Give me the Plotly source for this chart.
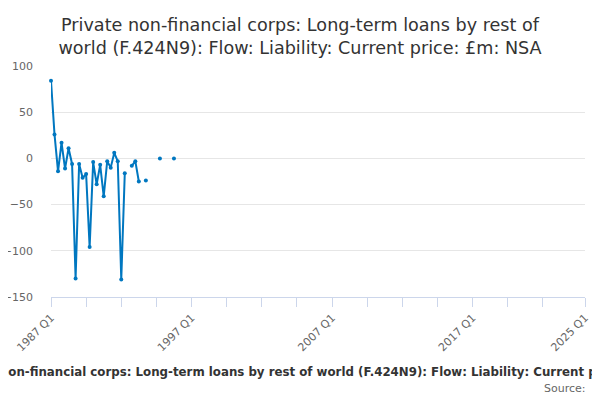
import plotly.graph_objects as go

years = list(range(1987, 2026))
quarters = [f"{y} Q{q}" for y in years for q in (1, 2, 3, 4)]
quarters = quarters[:quarters.index("2025 Q1") + 1]

known_values = [84, 26, -14, 17, -11, 11, -6, -130, -6, -21, -17, -96, -4, -28,
                -7, -41, -3, -10, 6, -3, -131, -16, None, -8, -3, -25, None, -24,
                None, None, None, 0, None, None, None, 0]
values = known_values + [None] * (len(quarters) - len(known_values))

label_quarters = ["1987 Q1", "1997 Q1", "2007 Q1", "2017 Q1", "2025 Q1"]
tick_quarters = quarters[0:141:10] + ["2025 Q1"]
y_ticks = [100, 50, 0, -50, -100, -150]

title_text = ("Private non-financial corps: Long-term loans by rest of<br>"
              "world (F.424N9): Flow: Liability: Current price: £m: NSA")
axis_title = ("Private non-financial corps: Long-term loans by rest of world "
              "(F.424N9): Flow: Liability: Current price: £m: NSA")

FONT = "DejaVu Sans, Verdana, sans-serif"
BLUE = "#0077c0"

# the page body adds an 8px offset; margins below compensate for it
fig = go.Figure()
fig.add_trace(go.Scatter(
    x=quarters, y=values, mode="lines+markers",
    line=dict(color=BLUE, width=2),
    marker=dict(color=BLUE, size=4),
    connectgaps=False, cliponaxis=False, showlegend=False,
))

fig.update_layout(
    width=600, height=400,
    margin=dict(l=43, r=23, t=58, b=111, autoexpand=False),
    paper_bgcolor="white", plot_bgcolor="white",
    font=dict(family=FONT, color="#666666", size=11),
    title=dict(text=title_text, x=(43 + 577) / 2 / 600 - 0.03, xanchor="center",
               yref="container", y=1 - 23 / 400, yanchor="middle",
               font=dict(family=FONT, size=17.6, color="#333333")),
    xaxis=dict(
        type="category", categoryorder="array", categoryarray=quarters,
        range=[0, len(quarters) - 1], automargin=False,
        tickmode="array", tickvals=tick_quarters,
        ticktext=[q if q in label_quarters else "" for q in tick_quarters],
        tickangle=-45, ticks="outside", ticklen=9, tickcolor="#ccd6eb",
        showline=True, linecolor="#ccd6eb", linewidth=1,
        showgrid=False, zeroline=False,
        tickfont=dict(size=11, color="#666666"),
    ),
    yaxis=dict(
        range=[-150, 100], tickvals=y_ticks, automargin=False,
        showgrid=True, gridcolor="#e6e6e6", gridwidth=1,
        zeroline=False, showline=False, ticks="",
        ticklabelstandoff=17,
        tickfont=dict(size=11, color="#666666"),
    ),
    annotations=[
        dict(text=f"<b>{axis_title}</b>", xref="paper", yref="paper",
             x=0.5, y=0, xanchor="center", yanchor="middle", yshift=-75,
             showarrow=False, font=dict(family=FONT, size=11.8, color="#333333")),
        dict(text="Source:", xref="paper", yref="paper",
             x=1, y=0, xanchor="right", yanchor="middle", yshift=-91, xshift=3,
             showarrow=False, font=dict(family=FONT, size=11, color="#666666")),
    ],
)

fig.write_html("out.html")
